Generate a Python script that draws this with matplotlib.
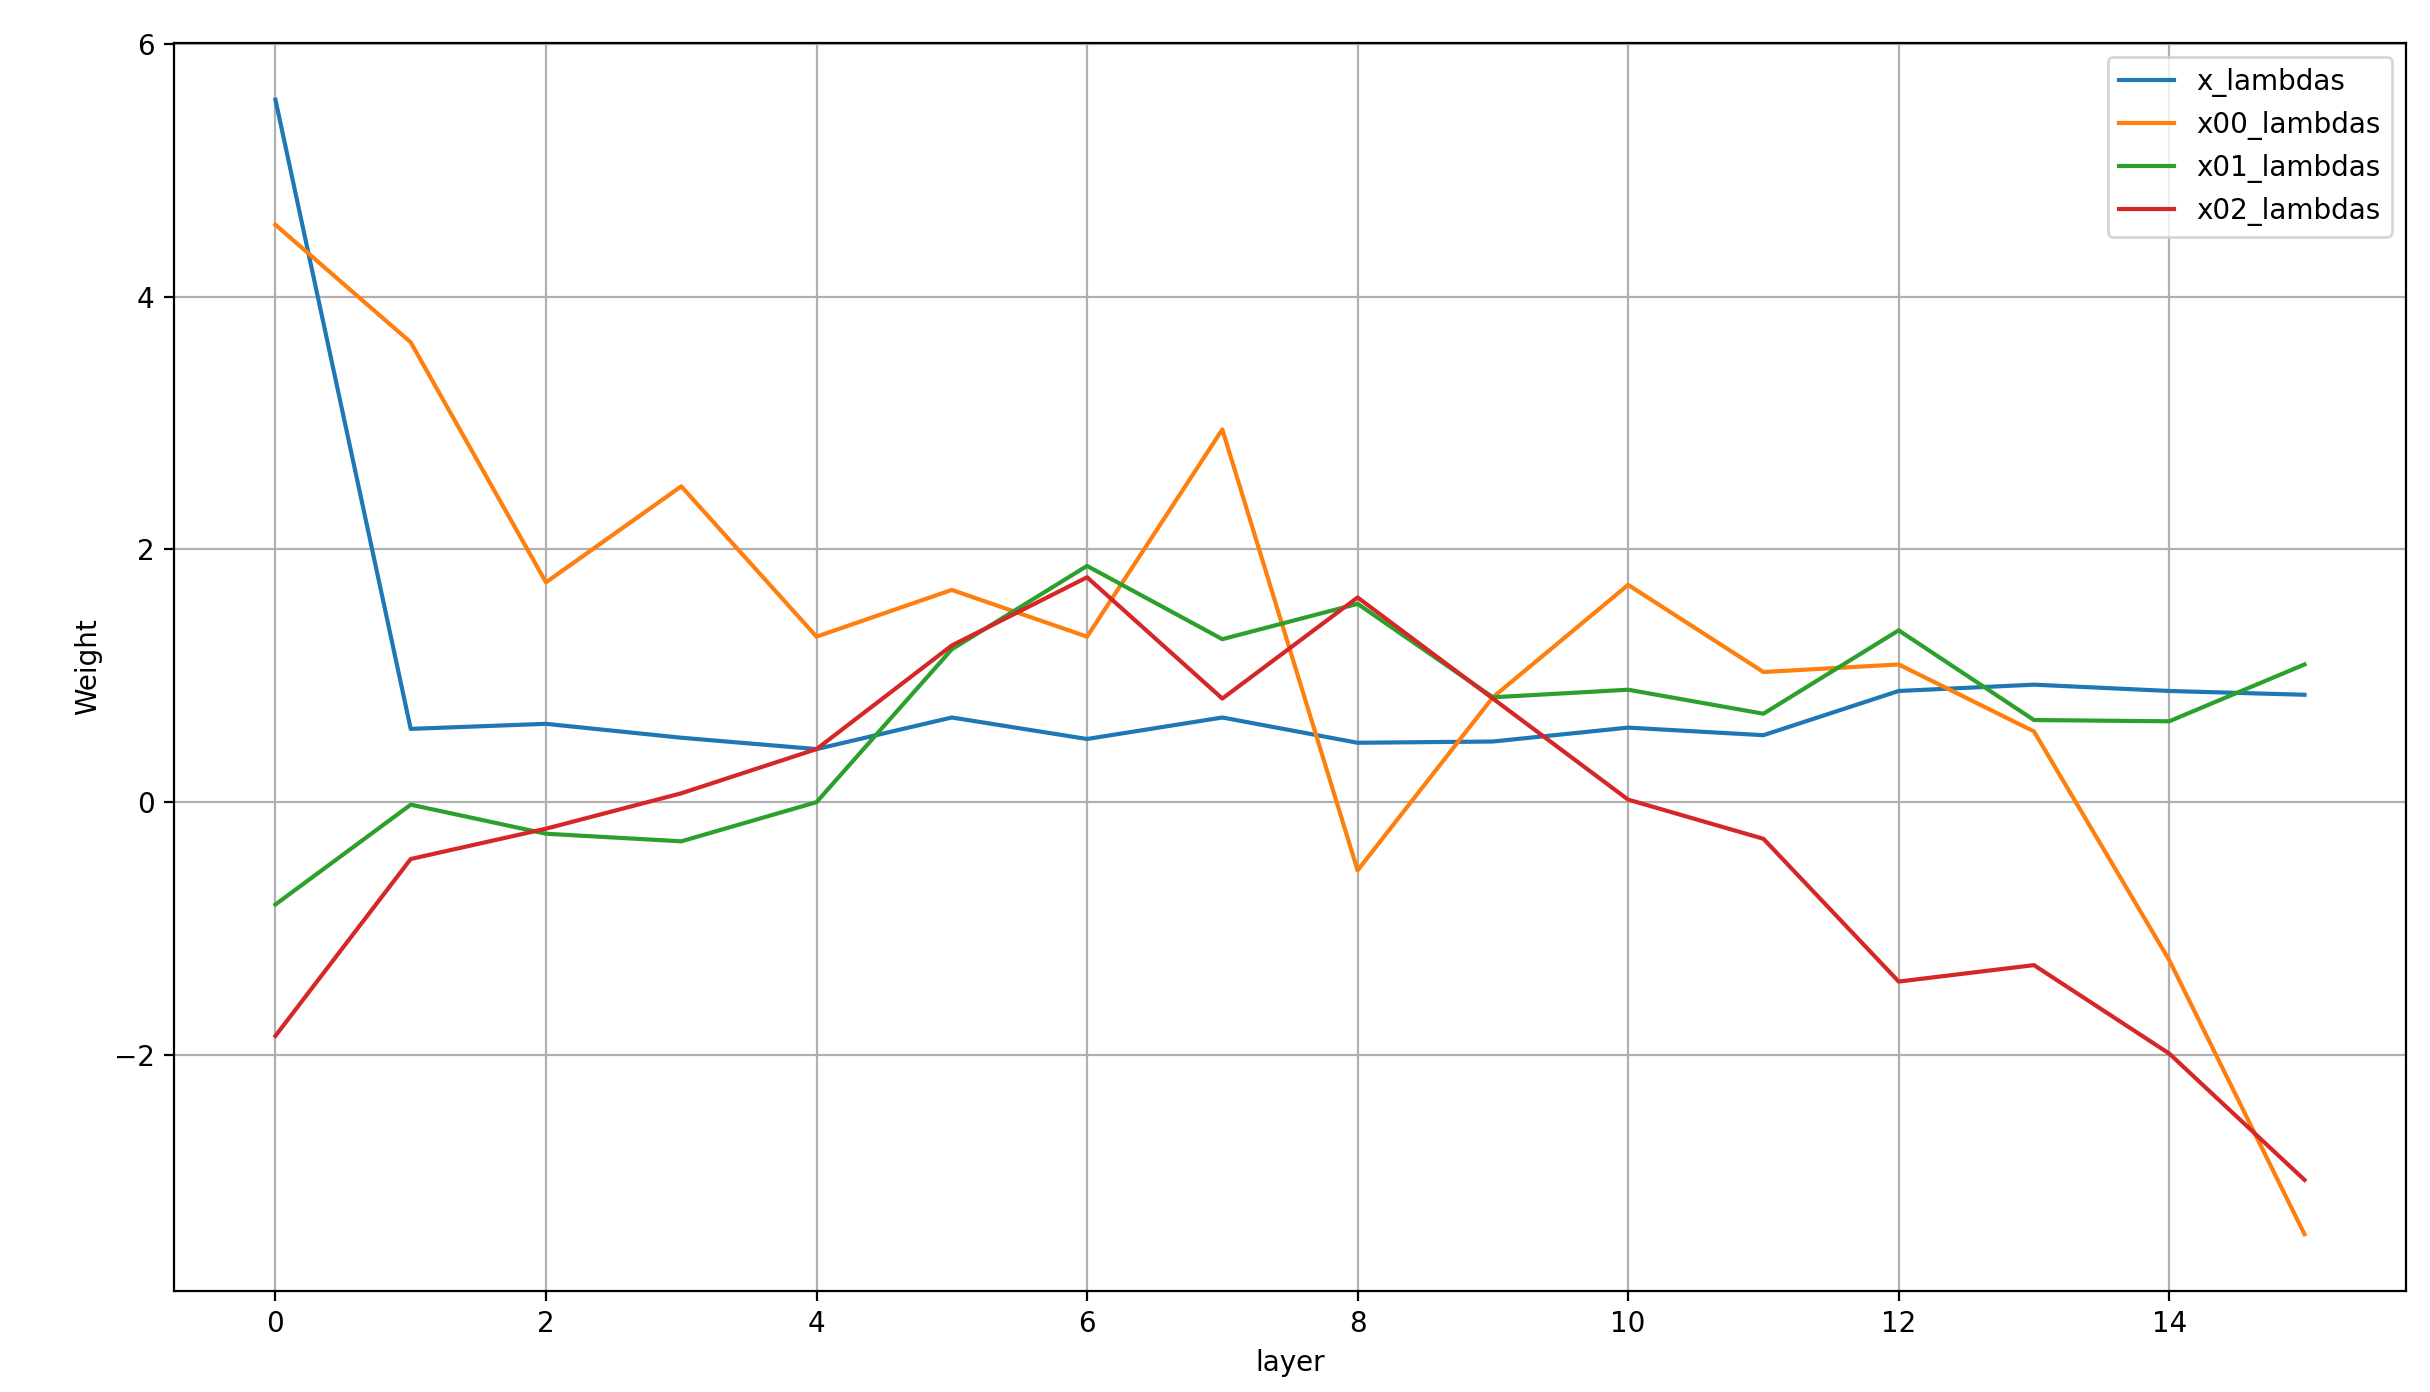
import numpy as np
import matplotlib
matplotlib.use("Agg")
from matplotlib import pyplot as plt

layers = np.arange(16)

x_lambdas = [5.56, 0.58, 0.62, 0.51, 0.42, 0.67, 0.50, 0.67,
             0.47, 0.48, 0.59, 0.53, 0.88, 0.93, 0.88, 0.85]
x00_lambdas = [4.57, 3.64, 1.74, 2.50, 1.31, 1.68, 1.31, 2.95,
               -0.54, 0.83, 1.72, 1.03, 1.09, 0.56, -1.25, -3.42]
x01_lambdas = [-0.81, -0.02, -0.25, -0.31, 0.00, 1.21, 1.87, 1.29,
               1.57, 0.83, 0.89, 0.70, 1.36, 0.65, 0.64, 1.09]
x02_lambdas = [-1.85, -0.45, -0.21, 0.07, 0.42, 1.24, 1.78, 0.82,
               1.62, 0.82, 0.02, -0.29, -1.42, -1.29, -1.99, -2.99]

dpi = 200
fig = plt.figure(figsize=(2430 / dpi, 1392 / dpi), dpi=dpi)
ax = fig.add_axes([0.0716, 0.0726, 0.9185, 0.8965])

ax.plot(layers, x_lambdas, label="x_lambdas")
ax.plot(layers, x00_lambdas, label="x00_lambdas")
ax.plot(layers, x01_lambdas, label="x01_lambdas")
ax.plot(layers, x02_lambdas, label="x02_lambdas")

ax.set_xlabel("layer")
ax.set_ylabel("Weight")
ax.grid(True)
ax.legend(loc="upper right")

fig.savefig("out.png", dpi=dpi)
